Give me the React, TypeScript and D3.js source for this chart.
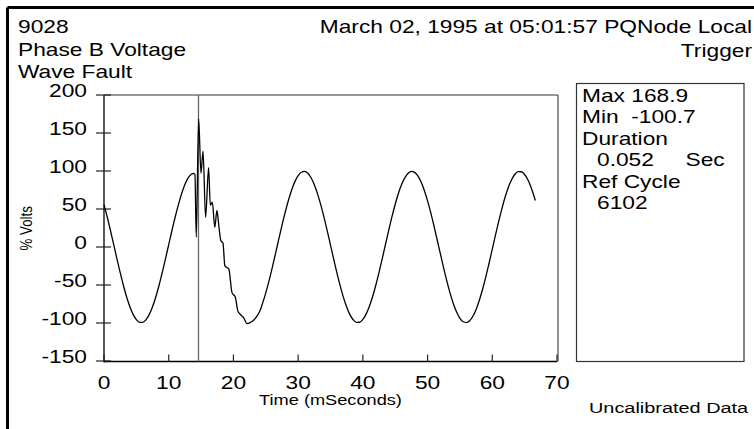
import React from "react";
import * as d3 from "d3";

// ---- Data ----
const headerLeft = ["9028", "Phase B Voltage", "Wave Fault"];
const headerRight = ["March 02, 1995 at 05:01:57 PQNode Local", "Trigger"];
const infoLines = ["Max 168.9", "Min\u00A0\u00A0-100.7", "Duration", "0.052\u00A0\u00A0\u00A0\u00A0\u00A0Sec", "Ref Cycle", "6102"];
const infoIndent = [false, false, false, true, false, true];
const footerText = "Uncalibrated Data";
const xLabel = "Time (mSeconds)";
const yLabel = "% Volts";
const xTicks = [0, 10, 20, 30, 40, 50, 60, 70];
const yTicks = [-150, -100, -50, 0, 50, 100, 150, 200];
const triggerTime = 14.6;

const preFaultTime = [0, 0.5, 1, 1.5, 2, 2.5, 3, 3.5, 4, 4.5, 5, 5.5, 6, 6.5, 7, 7.5, 8, 8.5, 9, 9.5, 10, 10.5, 11, 11.5, 12, 12.5, 13, 13.5, 13.8];
const preFaultVolts = [55.8, 39.5, 21.7, 3.1, -15.6, -33.6, -50.7, -65.8, -78.6, -88.7, -95.5, -99.1, -99.1, -95.5, -88.7, -78.6, -65.8, -50.7, -33.6, -15.6, 3.1, 21.7, 39.5, 55.8, 70.4, 82.3, 91.0, 95.6, 97.0];

const faultTime = [14.05, 14.26, 14.62, 14.99, 15.3, 15.7, 16.16, 16.43, 16.74, 17.12, 17.45, 17.77, 18.05, 18.39, 18.67, 18.98, 19.29, 19.78, 20.29, 20.68, 20.99, 21.57, 22.1, 22.87, 23.38, 24.15];
const faultVolts = [95.5, 13, 168.9, 97, 126, 39, 104.5, 55, 59, 26, 48, 26, 8.5, 5, -24.5, -27, -29, -60, -66, -84, -88, -93, -100.7, -98, -94, -83];

const postFaultTime = [24.5, 25, 25.5, 26, 26.5, 27, 27.5, 28, 28.5, 29, 29.5, 30, 30.5, 31, 31.5, 32, 32.5, 33, 33.5, 34, 34.5, 35, 35.5, 36, 36.5, 37, 37.5, 38, 38.5, 39, 39.5, 40, 40.5, 41, 41.5, 42, 42.5, 43, 43.5, 44, 44.5, 45, 45.5, 46, 46.5, 47, 47.5, 48, 48.5, 49, 49.5, 50, 50.5, 51, 51.5, 52, 52.5, 53, 53.5, 54, 54.5, 55, 55.5, 56, 56.5, 57, 57.5, 58, 58.5, 59, 59.5, 60, 60.5, 61, 61.5, 62, 62.5, 63, 63.5, 64, 64.5, 65, 65.5, 66, 66.5, 66.65];
const postFaultVolts = [-74.2, -60.4, -44.6, -27.1, -8.7, 10.0, 28.4, 45.7, 61.5, 75.1, 86.0, 93.8, 98.4, 99.4, 97.0, 91.1, 81.9, 69.9, 55.4, 39.0, 21.1, 2.5, -16.1, -34.3, -51.1, -66.3, -79.0, -89.0, -95.7, -99.2, -99.0, -95.3, -88.3, -78.3, -65.5, -50.3, -33.4, -15.2, 3.6, 22.1, 40.0, 56.3, 70.7, 82.5, 91.3, 97.1, 99.5, 98.2, 93.5, 85.4, 74.3, 60.6, 44.8, 27.3, 8.9, -9.8, -28.2, -45.6, -61.3, -74.9, -85.9, -93.8, -98.4, -99.4, -97.0, -91.1, -82.1, -70.1, -55.6, -39.2, -21.4, -2.8, 16.0, 34.0, 50.9, 66.1, 78.9, 88.8, 95.7, 99.1, 99.0, 95.4, 88.5, 78.4, 65.5, 61.2];

// ---- Layout ----
const W = 754;
const H = 429;
const FONT = "'Liberation Sans', Arial, Helvetica, sans-serif";
const SX = 1.3; // horizontal stretch of the reference's lettering
const FS = 17.5;

export default function App() {
  const x = d3.scaleLinear().domain([0, 70]).range([104, 557]);
  const y = d3.scaleLinear().domain([-150, 200]).range([361, 95]);

  const times = [...preFaultTime, ...faultTime, ...postFaultTime];
  const volts = [...preFaultVolts, ...faultVolts, ...postFaultVolts];
  const pts: [number, number][] = times.map((t, i) => [t, volts[i]]);
  const line = d3
    .line<[number, number]>()
    .x((d) => x(d[0]))
    .y((d) => y(d[1]))
    .curve(d3.curveMonotoneX);

  const T = (
    px: number,
    py: number,
    s: string,
    anchor: "start" | "middle" | "end" = "start",
    size = FS,
    key?: string
  ) => (
    <text
      key={key}
      transform={`translate(${px},${py}) scale(${SX},1)`}
      textAnchor={anchor}
      fontSize={size}
      fontFamily={FONT}
      fill="#000"
    >
      {s}
    </text>
  );

  const x0 = x(0);
  const x1 = x(70);
  const yTop = y(200);
  const yBot = 361.5;

  return (
    <svg
      width={W}
      height={H}
      style={{ position: "absolute", left: 0, top: 0, background: "#fff" }}
    >
      <rect x={0} y={0} width={W} height={H} fill="#fff" />
      {/* outer frame */}
      <line x1={7.5} y1={7.5} x2={W + 5} y2={7.5} stroke="#000" strokeWidth={3} />
      <line x1={7.5} y1={7.5} x2={7.5} y2={H + 5} stroke="#000" strokeWidth={3} />

      {/* headers */}
      {headerLeft.map((s, i) => T(18, 33 + i * 22.5, s, "start", FS, "hl" + i))}
      {headerRight.map((s, i) => T(752, 33 + i * 23.5, s, "end", FS, "hr" + i))}

      {/* plot frame top/right */}
      <line x1={x0} y1={yTop} x2={558} y2={yTop} stroke="#777" strokeWidth={1.3} />
      <line x1={558} y1={yTop} x2={558} y2={yBot} stroke="#555" strokeWidth={1.3} />

      {/* y axis */}
      <line x1={x0} y1={yTop} x2={x0} y2={yBot + 1} stroke="#000" strokeWidth={1.3} />
      {yTicks.map((v) => (
        <g key={"yt" + v}>
          <line x1={96} x2={111} y1={y(v)} y2={y(v)} stroke="#222" strokeWidth={1.2} />
          {T(87, y(v) + 2, String(v), "end", FS)}
        </g>
      ))}

      {/* x axis */}
      <line x1={x0} y1={yBot} x2={x1} y2={yBot} stroke="#000" strokeWidth={1.3} />
      {xTicks.map((v) => (
        <g key={"xt" + v}>
          <line x1={x(v)} x2={x(v)} y1={yBot - 7} y2={yBot} stroke="#222" strokeWidth={1.2} />
          {T(x(v), 389, String(v), "middle", FS)}
        </g>
      ))}

      {/* axis titles */}
      {T((x0 + x1) / 2, 405, xLabel, "middle", 14)}
      <text
        transform={`translate(32,${(yTop + yBot) / 2}) scale(${SX},1) rotate(-90)`}
        textAnchor="middle"
        fontSize={13.3}
        fontFamily={FONT}
        fill="#000"
      >
        {yLabel}
      </text>

      {/* trigger marker */}
      <line
        x1={x(triggerTime)}
        x2={x(triggerTime)}
        y1={yTop}
        y2={yBot}
        stroke="#666"
        strokeWidth={1.3}
      />

      {/* waveform */}
      <path d={line(pts) || ""} fill="none" stroke="#000" strokeWidth={1.3} />

      {/* info box */}
      <rect x={576.5} y={83.5} width={167.5} height={278} fill="none" stroke="#333" strokeWidth={1.2} />
      {infoLines.map((s, i) =>
        T(infoIndent[i] ? 597 : 582, 101.5 + i * 21.5, s, "start", FS, "info" + i)
      )}
      {T(589, 413, footerText, "start", 15.3)}
    </svg>
  );
}
